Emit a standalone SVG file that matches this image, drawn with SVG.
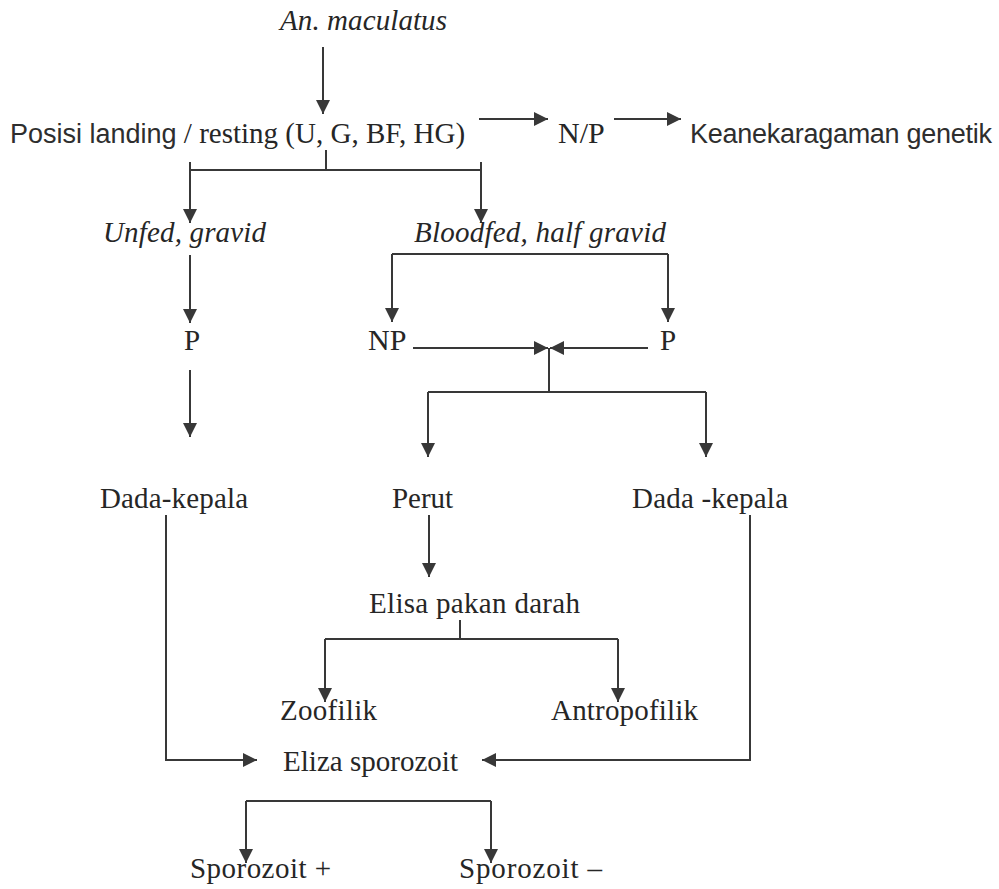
<svg xmlns="http://www.w3.org/2000/svg" width="999" height="889" viewBox="0 0 999 889">
<defs>
<style>
.t{font-family:"Liberation Serif","Times New Roman",serif;font-size:29px;fill:#262626}
.i{font-style:italic}
.s{font-family:"Liberation Sans",Arial,sans-serif;font-size:27px;fill:#2e2e2e}
.c path{fill:none;stroke:#383838;stroke-width:2}
.a{marker-end:url(#ah)}
</style>
<marker id="ah" markerUnits="userSpaceOnUse" markerWidth="14" markerHeight="14" refX="14" refY="7" orient="auto">
<path d="M0,0 L14,7 L0,14 z" fill="#383838"/>
</marker>
</defs>
<rect width="999" height="889" fill="#ffffff"/>
<g id="connectors" class="c">
<path class="a" d="M323,47 V114"/>
<path class="a" d="M479,119 H548"/>
<path class="a" d="M614,119 H681"/>
<path d="M326,150 V170"/>
<path d="M190,170 H481"/>
<path class="a" d="M190,162 V223"/>
<path class="a" d="M481,162 V223"/>
<path class="a" d="M190,255 V323"/>
<path d="M392,254 H668"/>
<path class="a" d="M392,254 V322"/>
<path class="a" d="M668,254 V322"/>
<path class="a" d="M190,370 V437"/>
<path class="a" d="M413,348 H548"/>
<path class="a" d="M648,348 H550"/>
<path d="M549,348 V392"/>
<path d="M428,392 H706"/>
<path class="a" d="M428,392 V457"/>
<path class="a" d="M706,392 V457"/>
<path class="a" d="M429,515 V577"/>
<path d="M460,620 V639"/>
<path d="M325,639 H618"/>
<path class="a" d="M325,639 V702"/>
<path class="a" d="M618,639 V702"/>
<path class="a" d="M166,515 V760 H257"/>
<path class="a" d="M750,515 V760 H482"/>
<path d="M246,801 H491"/>
<path class="a" d="M246,801 V863"/>
<path class="a" d="M491,801 V863"/>
</g>
<g id="n-maculatus"><text class="t i" x="280" y="30" textLength="167">An. maculatus</text></g>
<g id="n-posisi"><text class="t" x="10" y="143"><tspan class="s">Posisi landing</tspan> / resting (U, G, BF, HG)</text></g>
<g id="n-np-top"><text class="t" x="558" y="143" style="font-size:30px">N/P</text></g>
<g id="n-keanekaragaman"><text class="s" x="690" y="143" textLength="302">Keanekaragaman genetik</text></g>
<g id="n-unfed"><text class="t i" x="103" y="242" textLength="163">Unfed, gravid</text></g>
<g id="n-bloodfed"><text class="t i" x="414" y="242" textLength="252">Bloodfed, half gravid</text></g>
<g id="n-p-left"><text class="t" x="184" y="350">P</text></g>
<g id="n-np"><text class="t" x="368" y="350" style="font-size:30px">NP</text></g>
<g id="n-p-right"><text class="t" x="660" y="350">P</text></g>
<g id="n-dada-left"><text class="t" x="100" y="508" textLength="148">Dada-kepala</text></g>
<g id="n-perut"><text class="t" x="392" y="508" textLength="61">Perut</text></g>
<g id="n-dada-right"><text class="t" x="632" y="508" textLength="156">Dada -kepala</text></g>
<g id="n-elisa-pakan"><text class="t" x="369" y="613" textLength="211">Elisa pakan darah</text></g>
<g id="n-zoofilik"><text class="t" x="280" y="720" textLength="97">Zoofilik</text></g>
<g id="n-antropofilik"><text class="t" x="551" y="720" textLength="147">Antropofilik</text></g>
<g id="n-eliza"><text class="t" x="283" y="771" textLength="175">Eliza sporozoit</text></g>
<g id="n-spz-plus"><text class="t" x="190" y="878" textLength="141">Sporozoit +</text></g>
<g id="n-spz-minus"><text class="t" x="459" y="878" textLength="143">Sporozoit –</text></g>
</svg>
